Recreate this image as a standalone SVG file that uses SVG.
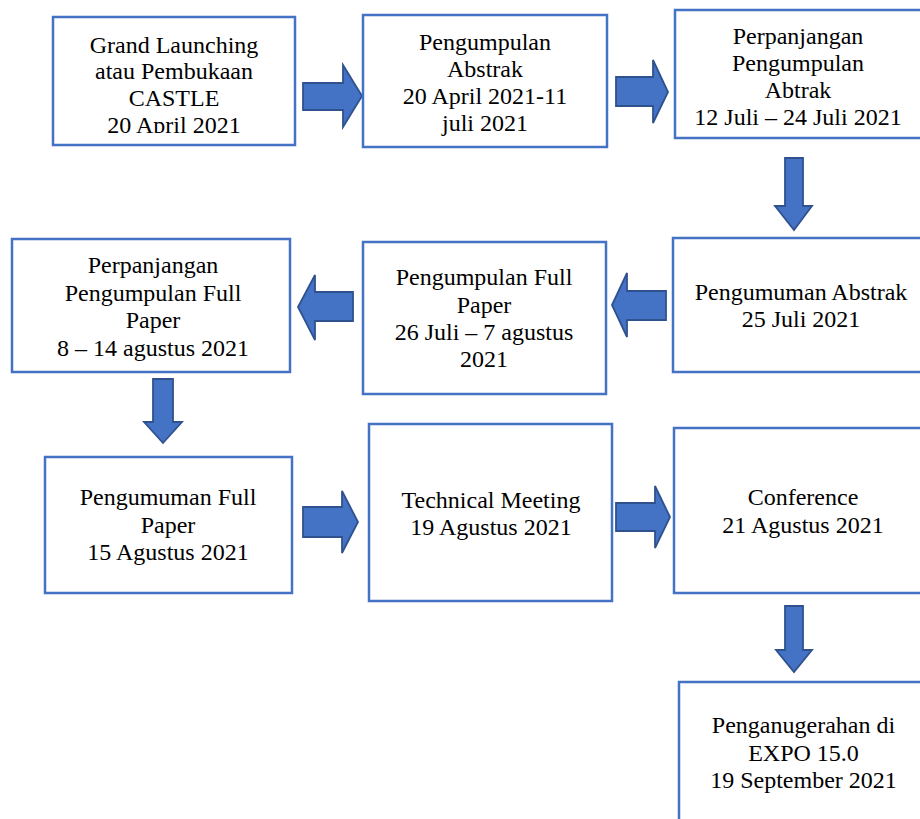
<svg xmlns="http://www.w3.org/2000/svg" width="920" height="819" viewBox="0 0 920 819">
<style>
.box{fill:#fff;stroke:#4472C4;stroke-width:2.5}
.arr{fill:#4472C4;stroke:#2F528F;stroke-width:1.8;stroke-linejoin:miter}
text{font-family:"Liberation Serif","Times New Roman",serif;font-size:24px;fill:#000;text-anchor:middle}
</style>
<defs>
<clipPath id="c1"><rect x="50" y="14" width="250" height="119"/></clipPath>
</defs>
<rect width="920" height="819" fill="#fff"/>
<g id="connectors">
<path class="arr" d="M303,83 H343 V65 L362,96 L343,127 V110 H303 Z"/>
<path class="arr" d="M616,77 H653 V60 L668,92 L653,123 V106 H616 Z"/>
<path class="arr" d="M785,158 H803 V206 H812 L794,230 L775,206 H785 Z"/>
<path class="arr" d="M666,291 H627 V273 L612,305 L627,337 V320 H666 Z"/>
<path class="arr" d="M353,292 H315 V275 L298,307 L315,340 V321 H353 Z"/>
<path class="arr" d="M153,379 H173 V422 H182 L163,443 L144,422 H153 Z"/>
<path class="arr" d="M303,507 H342 V491 L358,522 L342,553 V537 H303 Z"/>
<path class="arr" d="M616,503 H655 V486 L670,517 L655,548 V531 H616 Z"/>
<path class="arr" d="M785,606 H803 V650 H812 L794,672 L776,650 H785 Z"/>
</g>
<g id="n1">
<rect class="box" x="53" y="17" width="242" height="128"/>
<g clip-path="url(#c1)">
<text x="174" y="52.7">Grand Launching</text>
<text x="174" y="79.3">atau Pembukaan</text>
<text x="174" y="106">CASTLE</text>
<text x="174" y="132.6">20 April 2021</text>
</g>
</g>
<g id="n2">
<rect class="box" x="363" y="15" width="244" height="132"/>
<text x="485" y="50">Pengumpulan</text>
<text x="485" y="77">Abstrak</text>
<text x="485" y="104">20 April 2021-11</text>
<text x="485" y="131">juli 2021</text>
</g>
<g id="n3">
<rect class="box" x="675" y="10" width="250" height="128"/>
<text x="798" y="44">Perpanjangan</text>
<text x="798" y="71">Pengumpulan</text>
<text x="798" y="98">Abtrak</text>
<text x="798" y="125">12 Juli – 24 Juli 2021</text>
</g>
<g id="n4">
<rect class="box" x="673" y="238" width="257" height="134"/>
<text x="801" y="300">Pengumuman Abstrak</text>
<text x="801" y="327">25 Juli 2021</text>
</g>
<g id="n5">
<rect class="box" x="363" y="242" width="243" height="152"/>
<text x="484" y="285">Pengumpulan Full</text>
<text x="484" y="313">Paper</text>
<text x="484" y="340">26 Juli – 7 agustus</text>
<text x="484" y="367">2021</text>
</g>
<g id="n6">
<rect class="box" x="12" y="239" width="278" height="133"/>
<text x="153" y="273">Perpanjangan</text>
<text x="153" y="301">Pengumpulan Full</text>
<text x="153" y="328">Paper</text>
<text x="153" y="356">8 – 14 agustus 2021</text>
</g>
<g id="n7">
<rect class="box" x="45" y="457" width="247" height="136"/>
<text x="168" y="505">Pengumuman Full</text>
<text x="168" y="533">Paper</text>
<text x="168" y="560">15 Agustus 2021</text>
</g>
<g id="n8">
<rect class="box" x="369" y="424" width="243" height="177"/>
<text x="491" y="508">Technical Meeting</text>
<text x="491" y="535">19 Agustus 2021</text>
</g>
<g id="n9">
<rect class="box" x="674" y="428" width="256" height="165"/>
<text x="803" y="505">Conference</text>
<text x="803" y="533">21 Agustus 2021</text>
</g>
<g id="n10">
<rect class="box" x="679" y="682" width="251" height="148"/>
<text x="803.5" y="733">Penganugerahan di</text>
<text x="803.5" y="761">EXPO 15.0</text>
<text x="803.5" y="788">19 September 2021</text>
</g>
</svg>
